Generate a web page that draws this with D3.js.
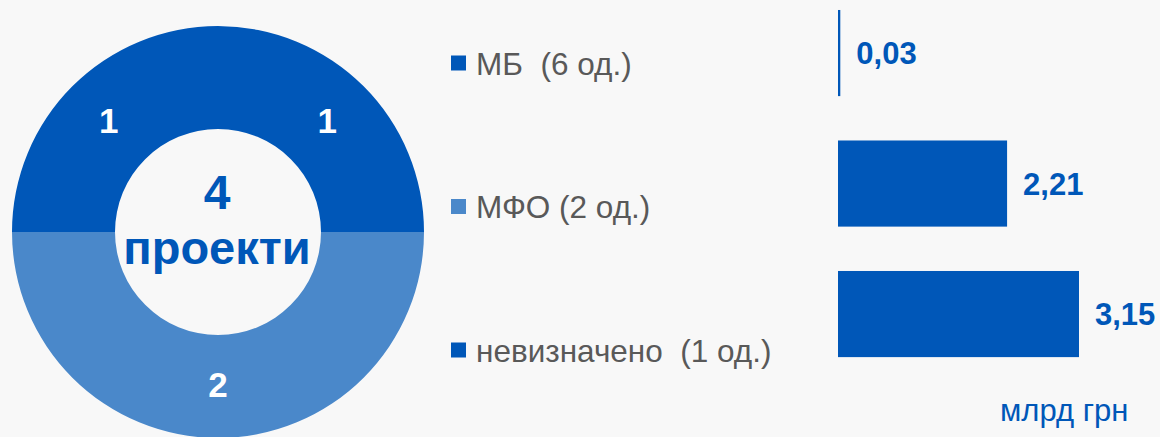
<!DOCTYPE html>
<html>
<head>
<meta charset="utf-8">
<script src="https://cdn.jsdelivr.net/npm/d3@7"></script>
<style>
  html, body { margin: 0; padding: 0; background: #f8f8f8; }
  svg { display: block; font-family: "Liberation Sans", Arial, sans-serif; }
</style>
</head>
<body>
<svg id="chart" width="1160" height="437"></svg>
<script>
// Project counts by funding source (donut)
const donutCategories = ["МБ", "МФО", "невизначено"];
const donutValues = [1, 2, 1];
const donutColors = ["#0057b8", "#4a88ca", "#0057b8"];
const totalLabel = "4";
const totalCaption = "проекти";

// Legend entries
const legendLabels = ["МБ  (6 од.)", "МФО (2 од.)", "невизначено  (1 од.)"];

// Amounts, bn UAH (bars)
const barCategories = ["МБ", "МФО", "невизначено"];
const barValues = [0.03, 2.21, 3.15];
const barLabels = ["0,03", "2,21", "3,15"];
const unitLabel = "млрд грн";

const svg = d3.select("#chart");
const BLUE = "#0057b8";

// ---- donut ----
const cx = 218, cy = 232, rOuter = 206, rInner = 103;
const pie = d3.pie().sort(null).value(d => d)(donutValues);
const arc = d3.arc().innerRadius(rInner).outerRadius(rOuter);
const gDonut = svg.append("g").attr("transform", `translate(${cx},${cy})`);
gDonut.selectAll("path.slice")
  .data(pie)
  .join("path")
  .attr("class", "slice")
  .attr("d", arc)
  .attr("fill", (d, i) => donutColors[i]);

gDonut.selectAll("text.slice-label")
  .data(pie)
  .join("text")
  .attr("class", "slice-label")
  .attr("transform", d => `translate(${arc.centroid(d)})`)
  .attr("text-anchor", "middle")
  .attr("dy", "0.3em")
  .attr("fill", "#ffffff")
  .attr("font-weight", "bold")
  .attr("font-size", 35)
  .text(d => d.data);

gDonut.append("text")
  .attr("x", -1).attr("y", -23)
  .attr("text-anchor", "middle")
  .attr("fill", BLUE)
  .attr("font-weight", "bold")
  .attr("font-size", 48)
  .text(totalLabel);

gDonut.append("text")
  .attr("x", -1).attr("y", 32)
  .attr("text-anchor", "middle")
  .attr("fill", BLUE)
  .attr("font-weight", "bold")
  .attr("font-size", 47)
  .text(totalCaption);

// ---- legend ----
const legendY = d3.scalePoint().domain(donutCategories).range([63, 350]);
const gLegend = svg.append("g");
const items = gLegend.selectAll("g.item")
  .data(donutCategories)
  .join("g")
  .attr("class", "item")
  .attr("transform", d => `translate(451,${legendY(d)})`);
items.append("rect")
  .attr("x", 0).attr("y", -7.5)
  .attr("width", 15).attr("height", 15)
  .attr("fill", (d, i) => donutColors[i]);
items.append("text")
  .attr("x", 25).attr("y", 11.5)
  .attr("fill", "#595959")
  .attr("font-size", 31.5)
  .style("white-space", "pre")
  .text((d, i) => legendLabels[i]);

// ---- bars ----
const x = d3.scaleLinear().domain([0, 3.15]).range([838, 1079]);
const y = d3.scaleBand().domain(barCategories).range([-12.2, 379.3])
  .paddingInner(0.34).paddingOuter(0.17);

const gBars = svg.append("g");
gBars.selectAll("rect.bar")
  .data(barValues)
  .join("rect")
  .attr("class", "bar")
  .attr("x", x(0))
  .attr("y", (d, i) => y(barCategories[i]))
  .attr("width", d => x(d) - x(0))
  .attr("height", y.bandwidth())
  .attr("fill", BLUE);

gBars.selectAll("text.bar-label")
  .data(barValues)
  .join("text")
  .attr("class", "bar-label")
  .attr("x", d => x(d) + 16)
  .attr("y", (d, i) => y(barCategories[i]) + y.bandwidth() / 2)
  .attr("dy", "0.36em")
  .attr("fill", BLUE)
  .attr("font-weight", "bold")
  .attr("font-size", 31)
  .text((d, i) => barLabels[i]);

svg.append("text")
  .attr("x", 1000).attr("y", 421)
  .attr("fill", BLUE)
  .attr("font-size", 31)
  .text(unitLabel);
</script>
</body>
</html>
